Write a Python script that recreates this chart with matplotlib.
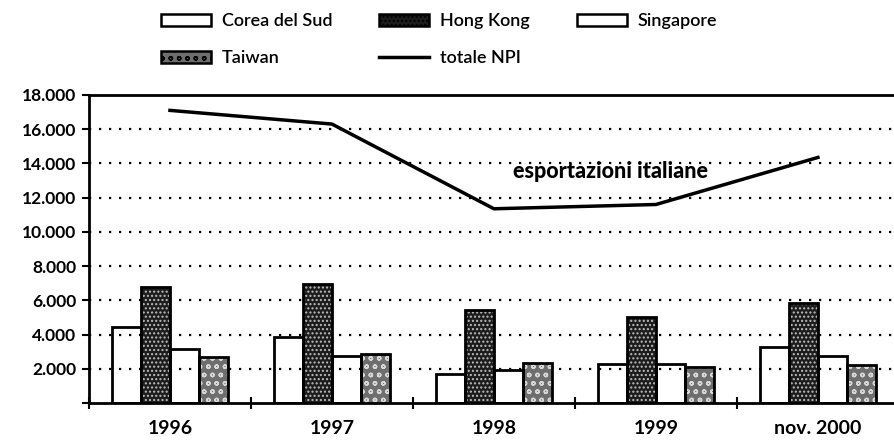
import matplotlib.pyplot as plt
import numpy as np
from matplotlib.patches import Patch
from matplotlib.lines import Line2D
from matplotlib.ticker import FuncFormatter

anni = ["1996", "1997", "1998", "1999", "nov. 2000"]
corea = [4450, 3850, 1700, 2250, 3250]
hongkong = [6800, 6950, 5450, 5000, 5850]
singapore = [3150, 2750, 1900, 2250, 2750]
taiwan = [2700, 2850, 2350, 2100, 2200]
totale_npi = [17100, 16300, 11350, 11600, 14350]

plt.rcParams['font.family'] = ['Lato', 'DejaVu Sans']
plt.rcParams['hatch.linewidth'] = 1.0

fig = plt.figure(figsize=(8.95, 4.43), dpi=100)
ax = fig.add_axes([0.0994, 0.0903, 0.905, 0.6953])

x = np.arange(len(anni))
w = 0.18
stili = [
    (corea, "white", None, "white"),
    (hongkong, "#1c1c1c", "....", "#bdbdbd"),
    (singapore, "white", None, "white"),
    (taiwan, "#6e6e6e", "oo", "#d8d8d8"),
]
for i, (valori, fc, hatch, hc) in enumerate(stili):
    pos = x + (i - 1.5) * w
    if hatch:
        ax.bar(pos, valori, w, color=fc, edgecolor=hc, hatch=hatch, linewidth=0, zorder=3)
    ax.bar(pos, valori, w, facecolor="none", edgecolor="black", linewidth=2, zorder=4)

ax.plot(x, totale_npi, color="black", linewidth=2.5, zorder=5)
ax.text(2.72, 13550, "esportazioni italiane", ha="center", va="center",
        fontsize=15.5, fontweight="black")

ax.set_xlim(-0.5, 4.5)
ax.set_ylim(0, 18000)
ax.set_yticks(range(0, 18001, 2000))
ax.yaxis.set_major_formatter(FuncFormatter(
    lambda v, p: "" if v == 0 else f"{int(v):,}".replace(",", ".")))
ax.set_xticks(np.arange(-0.5, 4.6, 1))
ax.set_xticklabels([])
ax.set_xticks(x, minor=True)
ax.set_xticklabels(anni, minor=True, fontsize=14, fontweight="bold")
ax.tick_params(axis="x", which="minor", length=0, pad=12)
ax.tick_params(axis="x", which="major", direction="inout", length=8, width=1.5)
ax.tick_params(axis="y", direction="out", length=5, width=1.5, labelsize=12.5, pad=4)
for lab in ax.get_yticklabels():
    lab.set_fontweight("bold")

for v in range(2000, 16001, 2000):
    ax.axhline(v, color="black", linestyle=(0, (1, 3.5)), linewidth=1.6, zorder=1)

ax.spines["right"].set_visible(False)
ax.spines["top"].set_linewidth(2)
ax.spines["left"].set_linewidth(2)
ax.spines["bottom"].set_linewidth(2)

maniglie = [
    Patch(facecolor="white", edgecolor="black", linewidth=1.8),
    Patch(facecolor="#6e6e6e", edgecolor="black", linewidth=1.8, hatch="oo"),
    Patch(facecolor="#1c1c1c", edgecolor="black", linewidth=1.8, hatch="...."),
    Line2D([], [], color="black", linewidth=2.5),
    Patch(facecolor="white", edgecolor="black", linewidth=1.8),
]
etichette = ["Corea del Sud", "Taiwan", "Hong Kong", "totale NPI", "Singapore"]
leg = fig.legend(maniglie, etichette, ncol=3, frameon=False, loc="upper left",
                 bbox_to_anchor=(0.170, 0.99), borderpad=0, fontsize=13,
                 handlelength=2.77, handleheight=0.66, columnspacing=2.6,
                 labelspacing=1.15, handletextpad=0.6)
for t in leg.get_texts():
    t.set_fontweight("semibold")

fig.savefig("out.png", dpi=100)
